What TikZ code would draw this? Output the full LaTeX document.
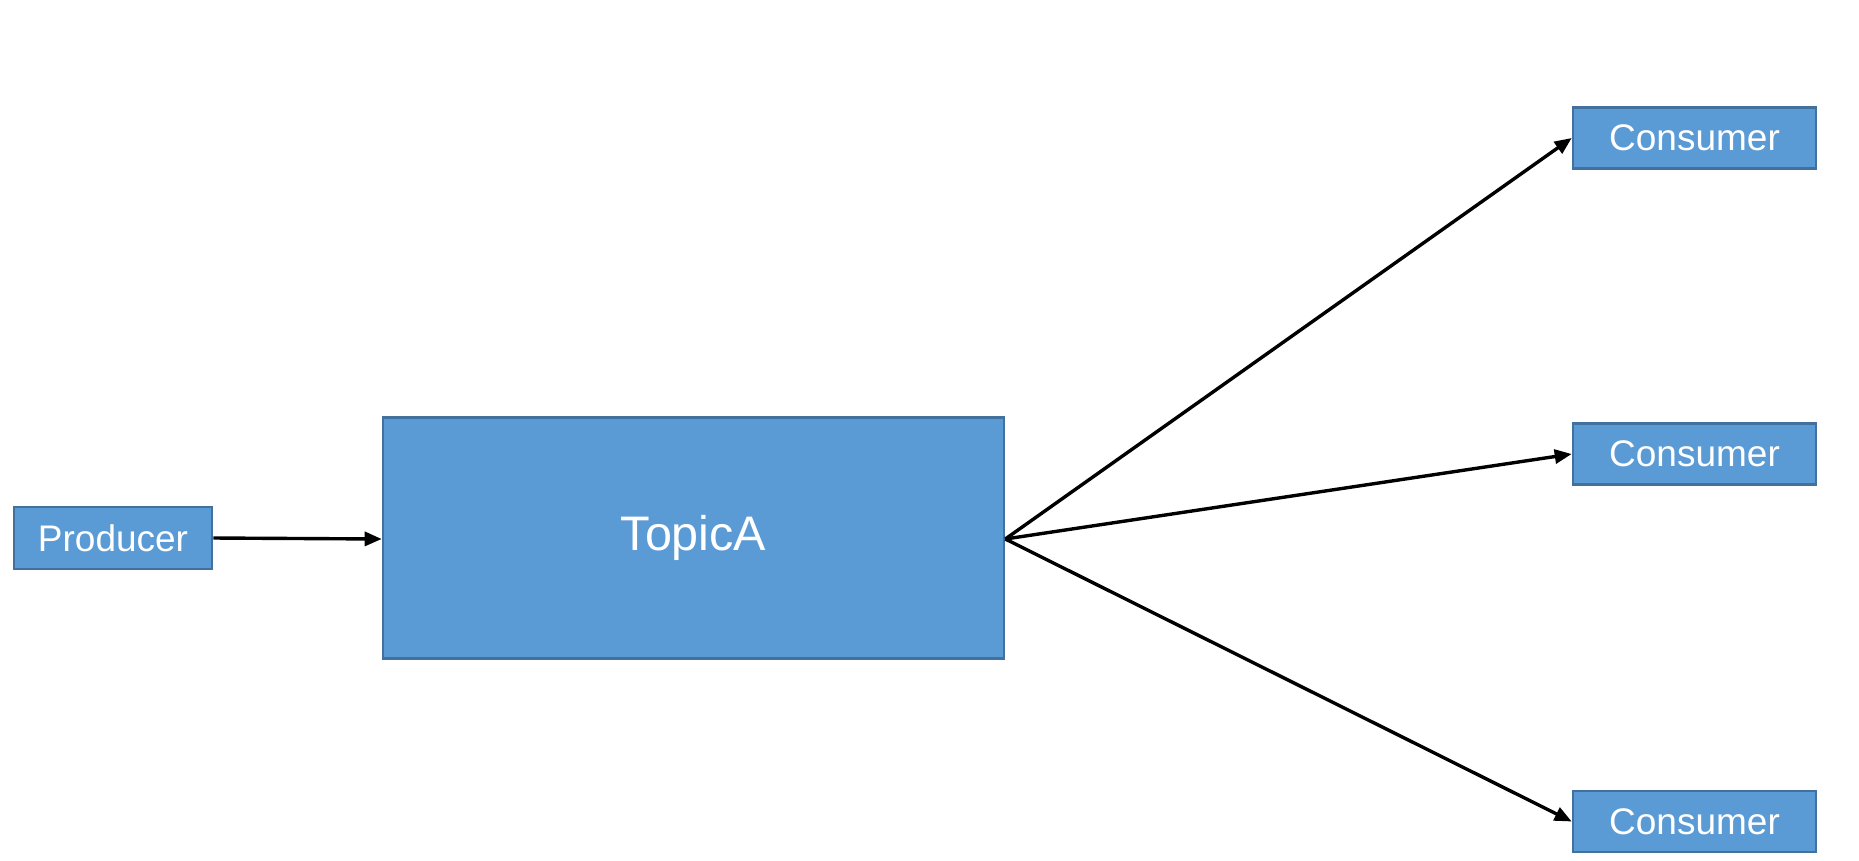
\documentclass[tikz,border=0pt]{standalone}
\usepackage{fontspec}
\setmainfont{Liberation Sans}
\usetikzlibrary{arrows.meta}
\definecolor{boxfill}{HTML}{5B9BD5}
\definecolor{boxline}{HTML}{41719C}
\begin{document}
\begin{tikzpicture}[x=1pt,y=-1pt,
  blockbox/.style={draw=boxline,fill=boxfill,line width=2.6pt,text=white,
    inner sep=0pt,font=\fontsize{37}{44}\selectfont},
  flow/.style={line width=3.4pt,-{Triangle[length=17pt,width=14pt]}}]
\useasboundingbox (0,0) rectangle (1859,860);
\node[blockbox,minimum width=198pt,minimum height=62pt] (prod) at (113,538) {Producer};
\node[blockbox,minimum width=621pt,minimum height=241pt,
  font=\fontsize{48.5}{58}\selectfont] (topic) at (693.5,538) {TopicA};
\node[blockbox,minimum width=243pt,minimum height=61pt] (c1) at (1694.5,138) {Consumer};
\node[blockbox,minimum width=243pt,minimum height=61pt] (c2) at (1694.5,454) {Consumer};
\node[blockbox,minimum width=243pt,minimum height=61pt] (c3) at (1694.5,821.5) {Consumer};
\coordinate (hub) at ([yshift=-1pt]topic.east);
\draw[flow] (prod.east) -- ([yshift=-1pt]topic.west);
\draw[flow] (hub) -- (c1.west);
\draw[flow] (hub) -- (c2.west);
\draw[flow] (hub) -- (c3.west);
\end{tikzpicture}
\end{document}
